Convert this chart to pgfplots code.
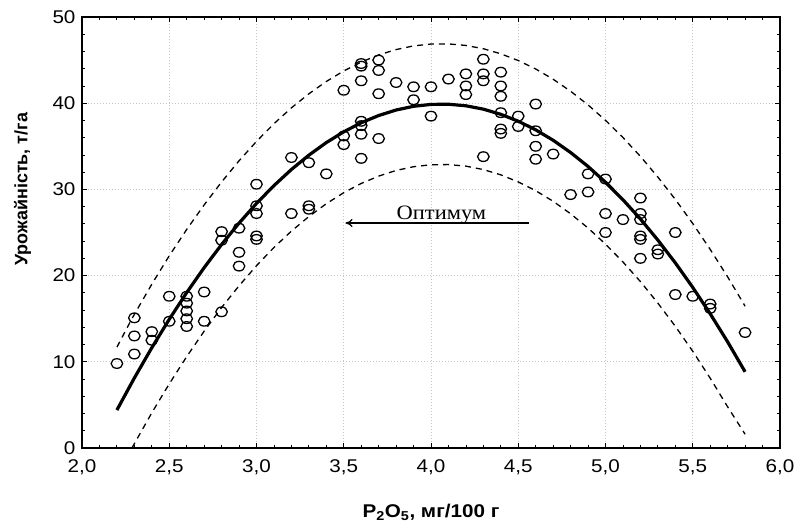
\documentclass[border=0pt]{standalone}
\usepackage{fontspec}
\setmainfont{Liberation Sans}[FakeStretch=1.12]
\newfontfamily\ylabfont{Liberation Sans}
\newfontfamily\seriffont{Liberation Serif}[FakeStretch=1.1]
\usepackage{pgfplots}
\usepackage{pgfplotstable}
\pgfplotsset{compat=1.18}
\usetikzlibrary{arrows.meta}

\pgfplotstableread{
x y
2.2 9.8
2.3 10.9
2.3 13.0
2.3 15.1
2.4 13.5
2.4 12.5
2.5 14.7
2.5 17.6
2.6 17.6
2.6 16.8
2.6 15.9
2.6 15.0
2.6 14.1
2.7 18.1
2.7 14.7
2.8 15.8
2.8 24.1
2.8 25.1
2.9 21.1
2.9 22.7
2.9 25.5
3.0 24.2
3.0 24.6
3.0 27.2
3.0 28.1
3.0 30.6
3.2 27.2
3.2 33.7
3.3 27.7
3.3 28.1
3.3 33.1
3.4 31.8
3.5 35.2
3.5 36.2
3.5 41.5
3.6 33.6
3.6 36.4
3.6 37.4
3.6 37.9
3.6 42.6
3.6 44.3
3.6 44.6
3.7 35.9
3.7 41.1
3.7 43.8
3.7 45.0
3.8 42.4
3.9 40.4
3.9 41.9
4.0 38.5
4.0 41.9
4.1 42.8
4.2 41.0
4.2 42.0
4.2 43.4
4.3 33.8
4.3 42.6
4.3 43.4
4.3 45.1
4.4 36.5
4.4 37.0
4.4 38.9
4.4 40.8
4.4 42.0
4.4 43.6
4.5 37.3
4.5 38.5
4.6 33.5
4.6 35.0
4.6 36.8
4.6 39.9
4.7 34.1
4.8 29.4
4.9 29.7
4.9 31.8
5.0 25.0
5.0 27.2
5.0 31.2
5.1 26.5
5.2 22.0
5.2 24.2
5.2 24.6
5.2 26.5
5.2 27.2
5.2 29.0
5.3 22.5
5.3 23.0
5.4 17.8
5.4 25.0
5.5 17.6
5.6 16.2
5.6 16.7
5.8 13.4
}\scatterdata

\pgfplotstableread{
x fit up low
2.2 4.40 11.70 nan
2.286 7.60 15.00 0.00
2.3 8.12 15.50 0.50
2.4 11.63 19.00 4.08
2.5 14.93 22.30 7.44
2.6 18.03 25.35 10.60
2.7 20.92 28.20 13.55
2.8 23.61 30.86 16.29
2.9 26.09 33.32 18.82
3.0 28.37 35.57 21.15
3.1 30.44 37.62 23.26
3.2 32.31 39.46 25.16
3.3 33.97 41.09 26.85
3.4 35.43 42.52 28.34
3.5 36.68 43.74 29.62
3.6 37.73 44.77 30.69
3.7 38.57 45.60 31.54
3.8 39.21 46.22 32.20
3.9 39.64 46.65 32.63
4.0 39.86 46.86 32.86
4.1 39.88 46.88 32.88
4.2 39.70 46.70 32.70
4.3 39.31 46.32 32.30
4.4 38.71 45.73 31.69
4.5 37.91 44.95 30.87
4.6 36.91 43.97 29.85
4.7 35.70 42.78 28.62
4.8 34.28 41.39 27.17
4.9 32.66 39.80 25.52
5.0 30.83 38.01 23.65
5.1 28.80 36.02 21.58
5.2 26.57 33.83 19.31
5.3 24.12 31.43 16.81
5.4 21.48 28.84 14.12
5.5 18.63 26.04 11.22
5.6 15.57 23.04 8.10
5.7 12.31 19.85 4.77
5.8 8.84 16.45 1.60
}\fitdata

\begin{document}
\begin{tikzpicture}
\begin{axis}[
  name=ax,
  scale only axis,
  width=698bp, height=431bp,
  xmin=2, xmax=6, ymin=0, ymax=50,
  xtick={2,2.5,3,3.5,4,4.5,5,5.5,6},
  ytick={0,10,20,30,40,50},
  minor x tick num=4, minor y tick num=4,
  tick align=inside,
  major tick length=5bp, minor tick length=3bp,
  every tick/.style={black, line width=0.8bp},
  axis line style={line width=1.4bp},
  grid=major,
  major grid style={gray!45, line width=0.8bp, dash pattern=on 1.5bp off 1.5bp},
  /pgf/number format/assume math mode=true,
  x tick label style={/pgf/number format/fixed, /pgf/number format/fixed zerofill, /pgf/number format/precision=1, /pgf/number format/use comma, yshift=-8bp},
  y tick label style={/pgf/number format/fixed, /pgf/number format/precision=0, xshift=-3bp},
  tick label style={font=\fontsize{18.5}{21}\selectfont},
  xlabel={P\textsubscript{2}O\textsubscript{5}, мг/100 г},
  ylabel={\ylabfont\bfseries Урожайність, т/га},
  label style={font=\bfseries\fontsize{18.5}{22}\selectfont},
  xlabel style={at={(axis description cs:0.5,-0.15)}, anchor=center},
  ylabel style={at={(axis description cs:-0.085,0.6)}, anchor=center, font=\fontsize{18}{22}\selectfont},
]
\addplot[black, line width=1.3bp, dash pattern=on 6bp off 5bp, unbounded coords=jump] table[x=x, y=up] {\fitdata};
\addplot[black, line width=1.3bp, dash pattern=on 6bp off 5bp, unbounded coords=jump] table[x=x, y=low] {\fitdata};
\addplot[black, line width=3.2bp] table[x=x, y=fit] {\fitdata};
\addplot[only marks, mark=o, mark size=4.8bp, mark options={black, line width=1.3bp, xscale=1.2}] table[x=x, y=y] {\scatterdata};
\addplot[black, line width=1.3bp, -{To[length=7bp, width=8bp]}] coordinates {(4.56,26.1) (3.51,26.1)};
\node[anchor=base, inner sep=0pt, font=\seriffont\fontsize{20.5}{24}\selectfont] at (axis cs:4.06,26.5) {Оптимум};
\end{axis}
\pgfresetboundingbox
\path (ax.south west) ++(-82bp,-80bp) rectangle ++(795bp,528bp);
\end{tikzpicture}
\end{document}
